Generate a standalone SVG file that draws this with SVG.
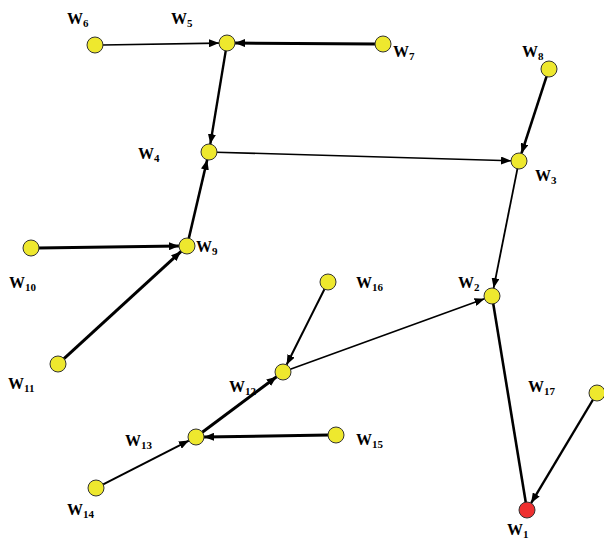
<svg xmlns="http://www.w3.org/2000/svg" width="604" height="542" viewBox="0 0 604 542">
<defs>
<marker id="ah" markerUnits="userSpaceOnUse" markerWidth="10" markerHeight="8" refX="10" refY="4" orient="auto">
<path d="M0,0 L10,4 L0,8 z" fill="#000"/>
</marker>
<style>
.e{stroke:#000;fill:none;marker-end:url(#ah)}
.n{fill:#EEE82E;stroke:#333;stroke-width:1}
.r{fill:#EE3030;stroke:#333;stroke-width:1}
.t{font-family:"Liberation Serif","Times New Roman",serif;font-weight:bold;font-size:16px;fill:#000}
.s{font-size:11px}
</style>
</defs>
<rect width="604" height="542" fill="#fff"/>
<g id="edges">
<line class="e" x1="102" y1="45" x2="219" y2="43.1" stroke-width="1.6"/>
<line class="e" x1="376" y1="44" x2="235" y2="43" stroke-width="3"/>
<line class="e" x1="225.9" y1="49.9" x2="210.3" y2="144.1" stroke-width="2.4"/>
<line class="e" x1="216" y1="152.2" x2="511" y2="160.8" stroke-width="1.6"/>
<line class="e" x1="546.8" y1="75.7" x2="521.5" y2="153.4" stroke-width="2.6"/>
<line class="e" x1="517.6" y1="167.9" x2="493.6" y2="288.1" stroke-width="1.8"/>
<line x1="493.1" y1="302.9" x2="525.9" y2="503.1" stroke="#000" stroke-width="2.6"/>
<line class="e" x1="593.4" y1="399" x2="531.1" y2="503.1" stroke-width="2.4"/>
<line class="e" x1="38" y1="247.9" x2="179" y2="246.1" stroke-width="3"/>
<line class="e" x1="63.2" y1="359.3" x2="181.1" y2="251.4" stroke-width="3"/>
<line class="e" x1="188.6" y1="239.2" x2="207.2" y2="159.8" stroke-width="2.6"/>
<line class="e" x1="324.9" y1="288.3" x2="286.6" y2="364.8" stroke-width="2"/>
<line class="e" x1="289.6" y1="369.6" x2="484.5" y2="298.7" stroke-width="1.6"/>
<line class="e" x1="201.6" y1="432.8" x2="276.6" y2="376.8" stroke-width="3"/>
<line class="e" x1="329" y1="435.1" x2="204" y2="436.9" stroke-width="3"/>
<line class="e" x1="102.2" y1="484.8" x2="188.9" y2="440.6" stroke-width="2"/>
</g>
<g id="W1"><circle class="r" cx="527" cy="510" r="8"/><text class="t" x="507" y="535">W<tspan class="s" dy="3">1</tspan></text></g>
<g id="W2"><circle class="n" cx="492" cy="296" r="8"/><text class="t" x="458" y="288">W<tspan class="s" dy="3">2</tspan></text></g>
<g id="W3"><circle class="n" cx="519" cy="161" r="8"/><text class="t" x="535" y="181">W<tspan class="s" dy="3">3</tspan></text></g>
<g id="W4"><circle class="n" cx="209" cy="152" r="8"/><text class="t" x="138" y="159">W<tspan class="s" dy="3">4</tspan></text></g>
<g id="W5"><circle class="n" cx="227" cy="43" r="8"/><text class="t" x="171" y="24">W<tspan class="s" dy="3">5</tspan></text></g>
<g id="W6"><circle class="n" cx="95" cy="45" r="8"/><text class="t" x="67" y="24">W<tspan class="s" dy="3">6</tspan></text></g>
<g id="W7"><circle class="n" cx="383" cy="44" r="8"/><text class="t" x="393" y="57">W<tspan class="s" dy="3">7</tspan></text></g>
<g id="W8"><circle class="n" cx="549" cy="69" r="8"/><text class="t" x="522" y="57">W<tspan class="s" dy="3">8</tspan></text></g>
<g id="W9"><circle class="n" cx="187" cy="246" r="8"/><text class="t" x="196" y="252">W<tspan class="s" dy="3">9</tspan></text></g>
<g id="W10"><circle class="n" cx="31" cy="248" r="8"/><text class="t" x="9" y="288">W<tspan class="s" dy="3">10</tspan></text></g>
<g id="W11"><circle class="n" cx="58" cy="364" r="8"/><text class="t" x="8" y="389">W<tspan class="s" dy="3">11</tspan></text></g>
<g id="W12"><circle class="n" cx="283" cy="372" r="8"/><text class="t" x="229" y="392">W<tspan class="s" dy="3">12</tspan></text></g>
<g id="W13"><circle class="n" cx="196" cy="437" r="8"/><text class="t" x="125" y="446">W<tspan class="s" dy="3">13</tspan></text></g>
<g id="W14"><circle class="n" cx="96" cy="488" r="8"/><text class="t" x="67" y="515">W<tspan class="s" dy="3">14</tspan></text></g>
<g id="W15"><circle class="n" cx="336" cy="435" r="8"/><text class="t" x="356" y="445">W<tspan class="s" dy="3">15</tspan></text></g>
<g id="W16"><circle class="n" cx="328" cy="282" r="8"/><text class="t" x="356" y="288">W<tspan class="s" dy="3">16</tspan></text></g>
<g id="W17"><circle class="n" cx="597" cy="393" r="8"/><text class="t" x="528" y="392">W<tspan class="s" dy="3">17</tspan></text></g>
</svg>
